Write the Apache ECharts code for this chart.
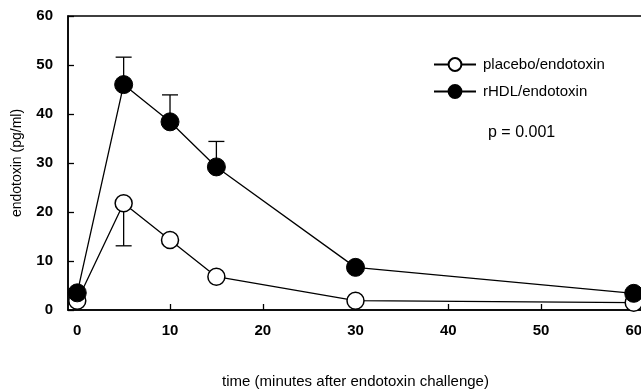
<!DOCTYPE html>
<html>
<head>
<meta charset="utf-8">
<script src="https://cdn.jsdelivr.net/npm/echarts@6/dist/echarts.min.js"></script>
<style>
  html, body { margin: 0; padding: 0; background: #fff; }
  #chart { width: 641px; height: 392px; }
</style>
</head>
<body>
<div id="chart"></div>
<script>
// minutes after endotoxin challenge
const times = [0, 5, 10, 15, 30, 60];
const placebo = [1.9, 21.8, 14.3, 6.8, 1.9, 1.5];
const rhdl = [3.5, 46, 38.4, 29.2, 8.7, 3.4];
// error bars: [time, mean, end]
const rhdlErr = [[5, 46, 51.6], [10, 38.4, 43.9], [15, 29.2, 34.4]];
const placeboErr = [[5, 21.8, 13.1]];
const xTicks = [0, 10, 20, 30, 40, 50, 60];
const yTicks = [0, 10, 20, 30, 40, 50, 60];

const font = 'Liberation Sans, Arial, sans-serif';

function pairs(ys) {
    return times.map((t, i) => [t, ys[i]]);
}

function errRender(params, api) {
    const p0 = api.coord([api.value(0), api.value(1)]);
    const p1 = api.coord([api.value(0), api.value(2)]);
    const half = 8;
    const style = { stroke: '#000', lineWidth: 1.3 };
    return {
        type: 'group',
        children: [
            { type: 'line', shape: { x1: p0[0], y1: p0[1], x2: p1[0], y2: p1[1] }, style },
            { type: 'line', shape: { x1: p1[0] - half, y1: p1[1], x2: p1[0] + half, y2: p1[1] }, style }
        ]
    };
}

const chart = echarts.init(document.getElementById('chart'), null, { renderer: 'canvas' });

chart.setOption({
    animation: false,
    backgroundColor: '#fff',
    textStyle: { fontFamily: font },
    grid: {
        left: 68, top: 16, width: 575, height: 294,
        outerBoundsMode: 'none', containLabel: false,
        show: true, borderColor: '#000', borderWidth: 1.5,
        backgroundColor: 'transparent'
    },
    legend: {
        orient: 'vertical',
        left: 428, top: 52,
        itemWidth: 42, itemHeight: 16, itemGap: 12,
        data: ['placebo/endotoxin', 'rHDL/endotoxin'],
        textStyle: { fontSize: 15, color: '#000', fontFamily: font, padding: [0, 0, 0, 2] }
    },
    xAxis: {
        type: 'value',
        min: -1, max: 61,
        interval: 10,
        name: 'time (minutes after endotoxin challenge)',
        nameLocation: 'middle',
        nameGap: 64,
        nameTextStyle: { fontSize: 15, color: '#000', fontFamily: font },
        axisLine: { onZero: false, lineStyle: { color: '#000', width: 1.5 } },
        axisTick: {
            inside: true, length: 6, customValues: xTicks.slice(1),
            lineStyle: { color: '#000', width: 1.3 }
        },
        axisLabel: {
            margin: 13, fontSize: 15, fontWeight: 'bold', color: '#000', fontFamily: font,
            customValues: xTicks
        },
        splitLine: { show: false }
    },
    yAxis: {
        type: 'value',
        min: 0, max: 60,
        interval: 10,
        name: 'endotoxin (pg/ml)',
        nameLocation: 'middle',
        nameGap: 44,
        nameTextStyle: { fontSize: 14, color: '#000', fontFamily: font },
        axisLine: { onZero: false, lineStyle: { color: '#000', width: 1.5 } },
        axisTick: { inside: true, length: 6, lineStyle: { color: '#000', width: 1.3 } },
        axisLabel: {
            margin: 15, fontSize: 15, fontWeight: 'bold', color: '#000', fontFamily: font,
            formatter: v => yTicks.includes(v) ? String(v) : ''
        },
        splitLine: { show: false }
    },
    series: [
        {
            name: 'rHDL-err', type: 'custom', z: 1,
            renderItem: errRender, data: rhdlErr,
            encode: { x: 0, y: [1, 2] }, silent: true
        },
        {
            name: 'placebo-err', type: 'custom', z: 1,
            renderItem: errRender, data: placeboErr,
            encode: { x: 0, y: [1, 2] }, silent: true
        },
        {
            name: 'placebo/endotoxin', type: 'line', z: 3,
            data: pairs(placebo),
            symbol: 'circle', symbolSize: 17,
            lineStyle: { color: '#000', width: 1.3 },
            itemStyle: { color: '#fff', borderColor: '#000', borderWidth: 1.5 }
        },
        {
            name: 'rHDL/endotoxin', type: 'line', z: 4,
            data: pairs(rhdl),
            symbol: 'circle', symbolSize: 18,
            lineStyle: { color: '#000', width: 1.3 },
            itemStyle: { color: '#000', borderColor: '#000', borderWidth: 1 }
        }
    ],
    graphic: [
        {
            type: 'text', left: 488, top: 125,
            style: { text: 'p = 0.001', fontSize: 16, fill: '#000', fontFamily: font }
        }
    ]
});
</script>
</body>
</html>
